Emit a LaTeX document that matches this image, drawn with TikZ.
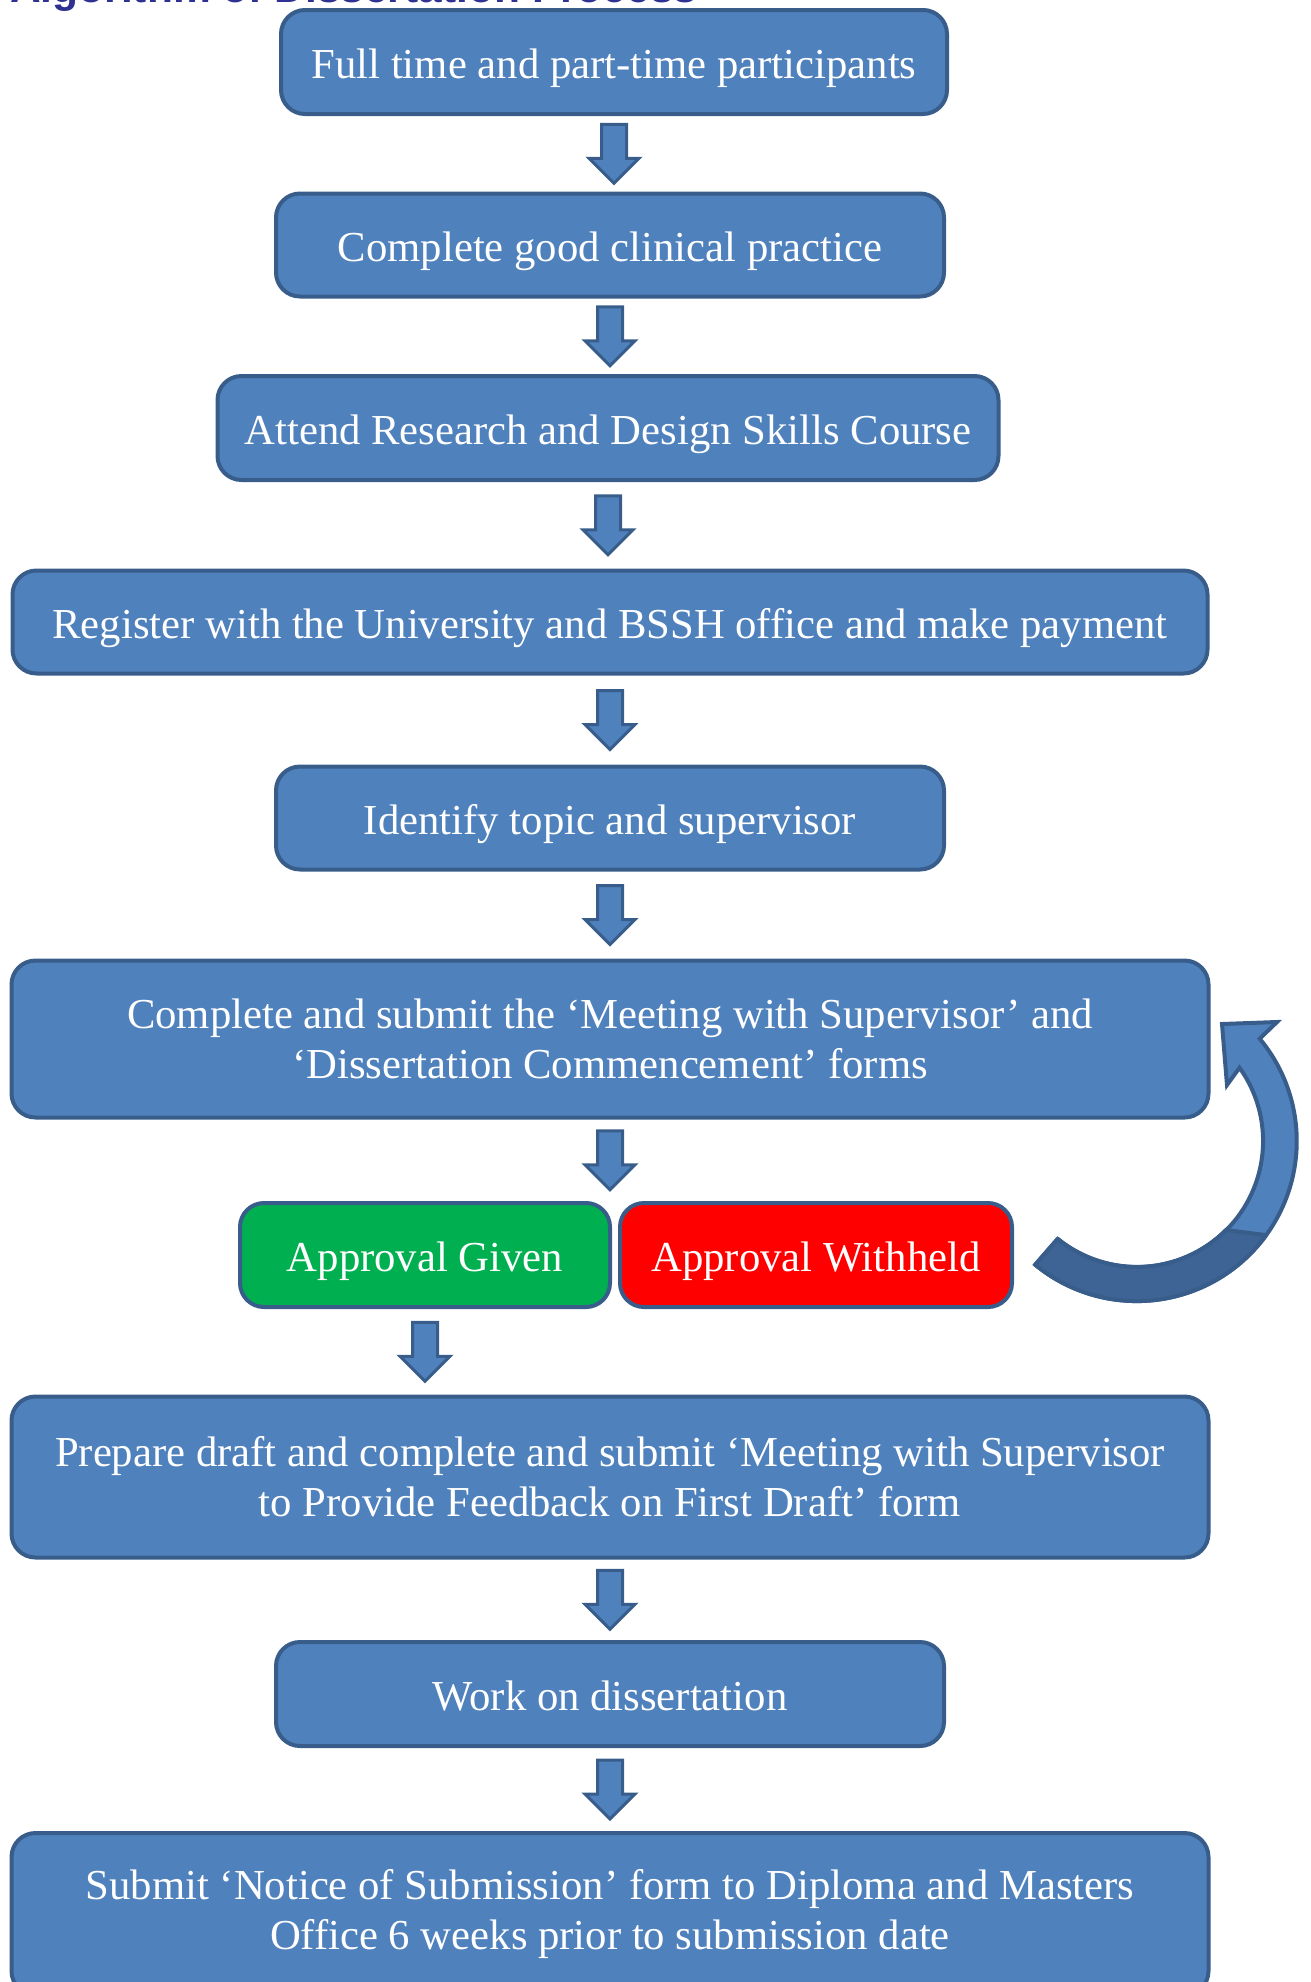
\documentclass[tikz,border=0pt]{standalone}
\usepackage{fontspec}
\setmainfont{Liberation Serif}
\newfontfamily\titlefont{Liberation Sans}
\usetikzlibrary{calc}
\definecolor{boxfill}{HTML}{4F81BD}
\definecolor{boxline}{HTML}{385D8A}
\definecolor{okgreen}{HTML}{00B050}
\definecolor{nored}{HTML}{FF0000}
\definecolor{titleblue}{HTML}{2E3192}
\definecolor{arrowdark}{HTML}{3E6496}
\tikzset{
  stepbox/.style={draw=boxline, fill=boxfill, line width=4pt, rounded corners=24pt,
    text=white, align=center, font=\fontsize{42.7}{50}\selectfont, inner sep=0pt},
  oneline/.style={text height=40pt, text depth=8pt},
  blockarr/.style={draw=boxline, fill=boxfill, line width=3pt, line join=miter},
}
\newcommand\blkarr[2]{%
  \begin{scope}[shift={($(#1.south)!0.5!(#1.south |- #2.north)$)}]
    \path[blockarr] (-12.5,-29.5) -- (12.5,-29.5) -- (12.5,4.5) -- (25,4.5) -- (0,29.5)
      -- (-25,4.5) -- (-12.5,4.5) -- cycle;
  \end{scope}}
\begin{document}
\begin{tikzpicture}[x=1pt,y=-1pt]
\useasboundingbox (0,0) rectangle (1310,1982);
\clip (0,0) rectangle (1310,1982);
\node[anchor=base west, font=\titlefont\bfseries\fontsize{42.5}{50}\selectfont,
  text=titleblue, inner sep=0pt] (title) at (10,2) {Algorithm of Dissertation Process};

\node[stepbox, oneline, minimum width=666pt, minimum height=104pt] (b1) at (614,62)
  {Full time and part-time participants};
\node[stepbox, oneline, minimum width=668pt, minimum height=103pt] (b2) at (610,245)
  {Complete good clinical practice};
\node[stepbox, oneline, minimum width=781pt, minimum height=104pt] (b3) at (608,428)
  {Attend Research and Design Skills Course};
\node[stepbox, oneline, minimum width=1195pt, minimum height=103pt] (b4) at (610,622)
  {Register with the University and BSSH office and make payment};
\node[stepbox, oneline, minimum width=668pt, minimum height=103pt] (b5) at (610,818)
  {Identify topic and supervisor};
\node[stepbox, minimum width=1197pt, minimum height=157pt] (b6) at (610,1039)
  {Complete and submit the ‘Meeting with Supervisor’ and\\‘Dissertation Commencement’ forms};
\node[stepbox, oneline, fill=okgreen, minimum width=370pt, minimum height=104pt] (given) at (425,1255)
  {Approval Given};
\node[stepbox, oneline, fill=nored, minimum width=392pt, minimum height=104pt] (withheld) at (816,1255)
  {Approval Withheld};
\node[stepbox, minimum width=1197pt, minimum height=161pt] (b9) at (610,1477)
  {Prepare draft and complete and submit ‘Meeting with Supervisor\\to Provide Feedback on First Draft’ form};
\node[stepbox, oneline, minimum width=668pt, minimum height=104pt] (b10) at (610,1694)
  {Work on dissertation};
\node[stepbox, minimum width=1197pt, minimum height=162pt] (b11) at (610,1914)
  {Submit ‘Notice of Submission’ form to Diploma and Masters\\Office 6 weeks prior to submission date};

\blkarr{b1}{b2}
\blkarr{b2}{b3}
\blkarr{b3}{b4}
\blkarr{b4}{b5}
\blkarr{b5}{b6}
\blkarr{b6}{given}
\blkarr{given}{b9}
\blkarr{b9}{b10}
\blkarr{b10}{b11}

% curved return arrow from "Approval Withheld" back to the commencement forms box
\path[blockarr, line width=4pt] (1035.2,1264.7) arc[start angle=129.4, end angle=-39.8, radius=160]
  -- (1277,1022) -- (1222,1024) -- (1227,1085) -- (1239.5,1067.7)
  arc[start angle=-35.6, end angle=129, radius=126] -- cycle;
\path[draw=boxline, fill=arrowdark, line width=4pt, line join=round]
  (1035.2,1264.7) arc[start angle=129.4, end angle=36, radius=160]
  -- (1226,1230) arc[start angle=45, end angle=129, radius=126] -- cycle;
\end{tikzpicture}
\end{document}
